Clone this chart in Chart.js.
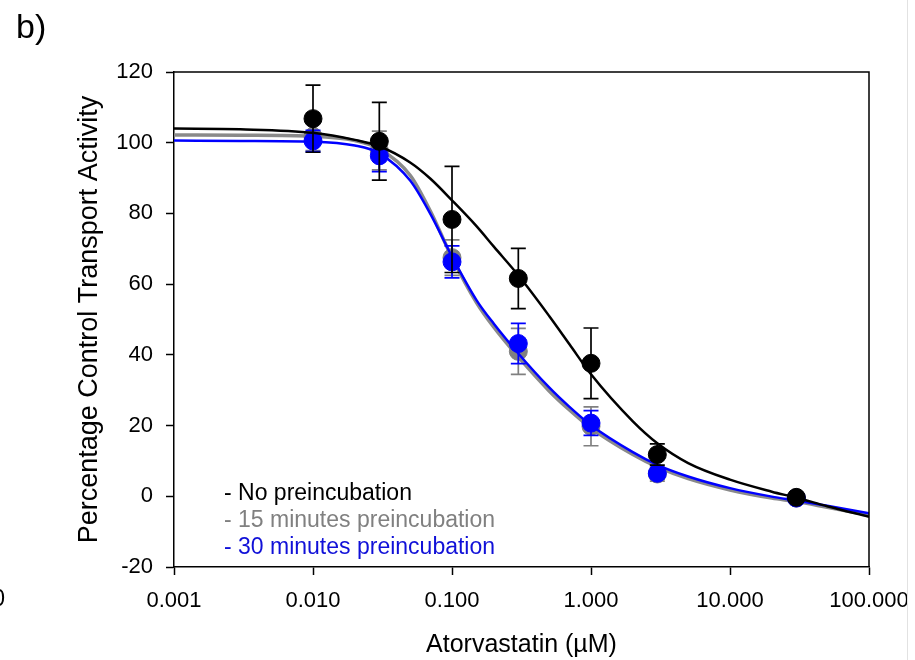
<!DOCTYPE html>
<html lang="en">
  <head>
    <meta charset="UTF-8" />
    <title>Atorvastatin inhibition</title>
    <style>
      body { margin: 0; background: #fff; }
      #wrap { width: 915px; height: 660px; position: relative; }
    </style>
  </head>
  <body>
    <div id="wrap">
      <canvas id="myChart" width="915" height="660"></canvas>
    </div>

    <script src="https://cdn.jsdelivr.net/npm/chart.js"></script>
    <script>
      // concentrations (uM) and measured activity (% of control)
      const conc = [0.01, 0.03, 0.1, 0.3, 1, 3, 30];
      const noPre = [106.8, 100.4, 78.3, 61.6, 37.6, 11.8, -0.3];
      const noPreErr = [9.5, 11, 15, 8.5, 10, 3, 1];
      const pre15 = [101.8, 97.8, 67.5, 41, 19.8, 6.3, -0.5];
      const pre15Err = [4, 5.5, 5, 6.5, 5.5, 2, 1];
      const pre30 = [100.5, 96.3, 66.3, 43.2, 20.7, 6.5, -0.5];
      const pre30Err = [3, 4.5, 4.5, 5.7, 3.5, 1.5, 1];

      // fitted curves
      const curveX = [0.001, 0.003, 0.01, 0.02, 0.03, 0.05, 0.07, 0.1, 0.15, 0.2, 0.3, 0.5, 0.7, 1, 2, 3, 5, 10, 20, 30, 50, 100];
      const noPreFit = [104, 103.8, 102.8, 100.8, 99, 94.4, 89.8, 83.7, 76.4, 70.6, 62.5, 51, 43, 34.5, 21.2, 15, 9.4, 4.7, 1.3, -0.4, -2.8, -5.8];
      const pre15Fit = [102.2, 102.1, 101.8, 100.6, 98.3, 90.8, 80.6, 67.5, 54.8, 47.8, 39.4, 29.8, 24.4, 19.3, 11.8, 8.3, 5, 1.8, -0.5, -1.5, -3.1, -5.3];
      const pre30Fit = [100.6, 100.5, 100.3, 99.2, 97, 89.3, 79.8, 67.8, 55.5, 48.8, 40.4, 30.8, 25.3, 20.1, 12.5, 8.9, 5.6, 2.3, -0.1, -1.2, -2.7, -4.8];

      const xTickValues = [0.001, 0.01, 0.1, 1, 10, 100];
      const xTickLabels = ["0.001", "0.010", "0.100", "1.000", "10.000", "100.000"];
      const legendText = ["- No preincubation", "- 15 minutes preincubation", "- 30 minutes preincubation"];

      const FONT = "'Liberation Sans', Arial, sans-serif";
      const BLACK = "#000000", GRAY = "#808080", BLUE = "#0000ff";

      function pts(xs, ys) {
        return xs.map((x, i) => ({ x: x, y: ys[i] }));
      }

      function pointSet(label, ys, errs, color, order) {
        return {
          label: label,
          data: pts(conc, ys),
          errors: errs,
          showLine: false,
          pointRadius: 9,
          pointHoverRadius: 9,
          pointBackgroundColor: color,
          pointBorderColor: color,
          pointBorderWidth: 1,
          borderColor: color,
          backgroundColor: color,
          order: order,
        };
      }

      function curveSet(ys, color, width, order) {
        return {
          data: pts(curveX, ys),
          showLine: true,
          pointRadius: 0,
          borderColor: color,
          borderWidth: width,
          cubicInterpolationMode: "monotone",
          order: order,
        };
      }

      // error bars drawn just before each point dataset
      const errorBars = {
        id: "errorBars",
        beforeDatasetDraw(chart, args) {
          const ds = chart.data.datasets[args.index];
          if (!ds.errors) return;
          const xs = chart.scales.x, ys = chart.scales.y;
          const ctx = chart.ctx;
          ctx.save();
          ctx.strokeStyle = ds.borderColor;
          ctx.lineWidth = 1.7;
          ds.data.forEach((p, i) => {
            const px = xs.getPixelForValue(p.x);
            const top = ys.getPixelForValue(p.y + ds.errors[i]);
            const bot = ys.getPixelForValue(p.y - ds.errors[i]);
            ctx.beginPath();
            ctx.moveTo(px, top); ctx.lineTo(px, bot);
            ctx.moveTo(px - 7.5, top); ctx.lineTo(px + 7.5, top);
            ctx.moveTo(px - 7.5, bot); ctx.lineTo(px + 7.5, bot);
            ctx.stroke();
          });
          ctx.restore();
        },
      };

      // frame, legend text and panel letter
      const extras = {
        id: "extras",
        afterDraw(chart) {
          const ctx = chart.ctx;
          const a = chart.chartArea;
          ctx.save();
          ctx.strokeStyle = BLACK;
          ctx.lineWidth = 1.5;
          ctx.beginPath();
          ctx.moveTo(a.left, a.top); ctx.lineTo(a.right, a.top); ctx.lineTo(a.right, a.bottom);
          ctx.stroke();

          ctx.font = "23px " + FONT;
          ctx.textAlign = "left";
          ctx.textBaseline = "alphabetic";
          const colors = [BLACK, GRAY, "#1010d8"];
          legendText.forEach((t, i) => {
            ctx.fillStyle = colors[i];
            ctx.fillText(t, a.left + 50, a.bottom - 67 + i * 27);
          });

          ctx.fillStyle = BLACK;
          ctx.font = "34px " + FONT;
          ctx.fillText("b)", 16, 38);

          ctx.font = "23px " + FONT;
          ctx.textAlign = "right";
          ctx.textBaseline = "middle";
          ctx.fillText("0", 5, 600);

          ctx.strokeStyle = "#e2e2e2";
          ctx.lineWidth = 1;
          ctx.beginPath();
          ctx.moveTo(907.5, 0); ctx.lineTo(907.5, 660);
          ctx.stroke();
          ctx.restore();
        },
      };

      const ctx = document.getElementById("myChart");
      const myChart = new Chart(ctx, {
        type: "scatter",
        data: {
          datasets: [
            pointSet("No preincubation", noPre, noPreErr, BLACK, 0),
            curveSet(noPreFit, BLACK, 2.5, 1),
            pointSet("30 minutes preincubation", pre30, pre30Err, BLUE, 2),
            curveSet(pre30Fit, BLUE, 2.5, 3),
            pointSet("15 minutes preincubation", pre15, pre15Err, GRAY, 4),
            curveSet(pre15Fit, "#8a8a8a", 3.5, 5),
          ],
        },
        options: {
          responsive: false,
          animation: false,
          layout: { padding: { top: 72, right: 46, left: 0, bottom: 0 } },
          plugins: {
            legend: { display: false },
            tooltip: { enabled: false },
          },
          scales: {
            x: {
              type: "logarithmic",
              min: 0.001,
              max: 100,
              afterBuildTicks(scale) {
                scale.ticks = xTickValues.map((v) => ({ value: v }));
              },
              afterFit(scale) {
                scale.height = 93;
                scale.paddingLeft = 0;
                scale.paddingRight = 0;
              },
              ticks: {
                autoSkip: false,
                maxRotation: 0,
                padding: 13,
                color: BLACK,
                font: { family: FONT, size: 22 },
                callback: (v, i) => xTickLabels[i],
              },
              grid: {
                drawOnChartArea: false,
                tickLength: 8,
                tickWidth: 1.5,
                color: BLACK,
              },
              border: { color: BLACK, width: 1.5 },
              title: {
                display: true,
                text: "Atorvastatin (µM)",
                color: BLACK,
                font: { family: FONT, size: 25 },
                padding: { top: 0, bottom: 0 },
              },
            },
            y: {
              min: -20,
              max: 120,
              afterFit(scale) {
                scale.width = 174;
              },
              ticks: {
                stepSize: 20,
                padding: 13,
                color: BLACK,
                font: { family: FONT, size: 22 },
              },
              grid: {
                drawOnChartArea: false,
                tickLength: 8,
                tickWidth: 1.5,
                color: BLACK,
              },
              border: { color: BLACK, width: 1.5 },
              title: {
                display: true,
                text: "Percentage Control Transport Activity",
                color: BLACK,
                font: { family: FONT, size: 27 },
                padding: { top: 73, bottom: 0 },
              },
            },
          },
        },
        plugins: [errorBars, extras],
      });
    </script>
  </body>
</html>
